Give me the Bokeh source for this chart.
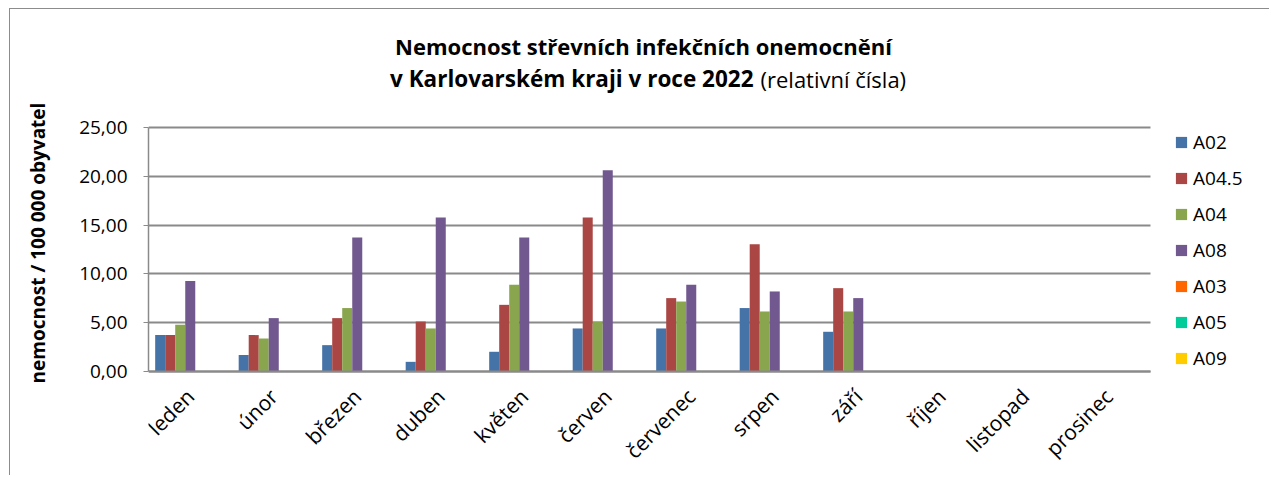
from bokeh.plotting import figure
from bokeh.models import (Range1d, FixedTicker, Label, Legend, LegendItem, ColumnDataSource)
from bokeh.transform import dodge
from bokeh.embed import file_html
from bokeh.resources import INLINE
from math import pi

months = ["leden", "únor", "březen", "duben", "květen", "červen", "červenec",
          "srpen", "září", "říjen", "listopad", "prosinec"]
series_names = ["A02", "A04.5", "A04", "A08", "A03", "A05", "A09"]
A02 = [3.73, 1.68, 2.70, 0.99, 2.02, 4.41, 4.41, 6.50, 4.07, 0, 0, 0]
A04_5 = [3.73, 3.73, 5.47, 5.12, 6.83, 15.78, 7.52, 13.05, 8.54, 0, 0, 0]
A04 = [4.78, 3.38, 6.50, 4.41, 8.88, 5.12, 7.17, 6.15, 6.15, 0, 0, 0]
A08 = [9.26, 5.47, 13.73, 15.78, 13.73, 20.63, 8.88, 8.20, 7.52, 0, 0, 0]
A03 = [0] * 12
A05 = [0] * 12
A09 = [0] * 12
colors = ["#4572A7", "#AA4643", "#89A54E", "#71588F", "#FF6600", "#00CC99", "#FFCC00"]
y_ticks = [0, 5, 10, 15, 20, 25]
y_tick_labels = ["0,00", "5,00", "10,00", "15,00", "20,00", "25,00"]
title1 = "Nemocnost střevních infekčních onemocnění"
title2_bold = "v Karlovarském kraji v roce 2022"
title2_normal = "(relativní čísla)"
y_title = "nemocnost / 100 000 obyvatel"

# category slots on a numeric axis (one unit per month)
x_pos = [i + 0.5 for i in range(len(months))]
data = dict(x=x_pos, A02=A02, A04_5=A04_5, A04=A04, A08=A08, A03=A03, A05=A05, A09=A09)
cols = ["A02", "A04_5", "A04", "A08", "A03", "A05", "A09"]
src = ColumnDataSource(data)

FONT = "Open Sans"
N = len(months)

# The frame covers the whole canvas height and extends to the right edge so that
# titles and legend (drawn in the frame) are not clipped. 25 units = 244 px,
# 12 months = 1002 px; the x axis is fixed at y = 0.
PX_PER_Y = 244 / 25.0
PX_PER_X = 1002 / N
CANVAS_W, CANVAS_H = 1260, 467
LEFT = 138
FRAME_W = CANVAS_W - LEFT
y_top = (371 - 9) / PX_PER_Y
y_bot = -(CANVAS_H - (371 - 9)) / PX_PER_Y

p = figure(x_range=Range1d(0, FRAME_W / PX_PER_X), y_range=Range1d(y_bot, y_top),
           width=CANVAS_W, height=CANVAS_H, output_backend="svg", toolbar_location=None, tools="",
           min_border_left=LEFT, min_border_right=0, min_border_top=0, min_border_bottom=0)
p.styles = {"margin-left": "9px", "margin-top": "8px",
            "border-left": "1px solid #8c8c8c", "border-top": "1px solid #8c8c8c"}
p.outline_line_color = None

bw = 0.12
renderers = []
for i, c in enumerate(cols):
    r = p.vbar(x=dodge("x", (i - 3) * bw), top=c, width=bw,
               source=src, color=colors[i], line_color=None)
    renderers.append(r)

p.xgrid.grid_line_color = None
p.ygrid.grid_line_color = "#8a8a8a"
p.ygrid.grid_line_width = 2
p.ygrid.bounds = (0, 25)
if "cross_bounds" in p.ygrid[0].properties():
    p.ygrid.cross_bounds = (0, N)

# y axis
p.yaxis.ticker = FixedTicker(ticks=y_ticks)
p.yaxis.major_label_overrides = {t_: l for t_, l in zip(y_ticks, y_tick_labels)}
p.yaxis.bounds = (0, 25)
p.yaxis.axis_line_color = "#8a8a8a"
p.yaxis.axis_line_width = 1.5
p.yaxis.major_tick_line_color = "#8a8a8a"
p.yaxis.major_tick_out = 5
p.yaxis.major_tick_in = 0
p.yaxis.minor_tick_line_color = None
p.yaxis.major_label_standoff = 16
p.yaxis.major_label_text_font = FONT
p.yaxis.major_label_text_font_size = "19px"
p.yaxis.major_label_text_color = "#000000"
p.yaxis.axis_label = y_title
p.yaxis.axis_label_text_font = FONT
p.yaxis.axis_label_text_font_style = "bold"
p.yaxis.axis_label_text_font_size = "19px"
p.yaxis.axis_label_text_color = "#000000"
p.yaxis.axis_label_standoff = 25

# x axis (month names at slot centres)
p.xaxis.fixed_location = 0
p.xaxis.bounds = (0, N)
p.xaxis.ticker = FixedTicker(ticks=x_pos)
p.xaxis.major_label_overrides = {x: m for x, m in zip(x_pos, months)}
p.xaxis.axis_line_color = "#8a8a8a"
p.xaxis.axis_line_width = 2
p.xaxis.major_tick_line_color = None
p.xaxis.minor_tick_line_color = None
p.xaxis.major_label_orientation = pi / 4
p.xaxis.major_label_standoff = 15
p.xaxis.major_label_text_font = FONT
p.xaxis.major_label_text_font_size = "21px"
p.xaxis.major_label_text_color = "#000000"

# titles (screen units: from frame bottom-left, y upwards)
FB = 476  # frame bottom in page pixels
p.add_layout(Label(x=643 - 148, y=FB - 45, x_units="screen", y_units="screen", text=title1,
                   text_font=FONT, text_font_style="bold", text_font_size="22px",
                   text_align="center", text_baseline="middle", text_color="#000000"))
p.add_layout(Label(x=753 - 148, y=FB - 78, x_units="screen", y_units="screen", text=title2_bold,
                   text_font=FONT, text_font_style="bold", text_font_size="22.5px",
                   text_align="right", text_baseline="middle", text_color="#000000"))
p.add_layout(Label(x=760 - 148, y=FB - 78, x_units="screen", y_units="screen", text=title2_normal,
                   text_font=FONT, text_font_style="normal", text_font_size="22px",
                   text_align="left", text_baseline="middle", text_color="#000000"))

legend = Legend(items=[LegendItem(label=n, renderers=[r]) for n, r in zip(series_names, renderers)],
                location=(1026, FB - 371), padding=0, margin=0, spacing=10,
                glyph_width=14, glyph_height=14, label_height=26, label_standoff=5,
                label_text_font=FONT, label_text_font_size="19px", label_text_color="#000000",
                label_text_baseline="middle",
                border_line_color=None, background_fill_alpha=0)
p.add_layout(legend, "center")

open("out.html", "w").write(file_html(p, INLINE))
